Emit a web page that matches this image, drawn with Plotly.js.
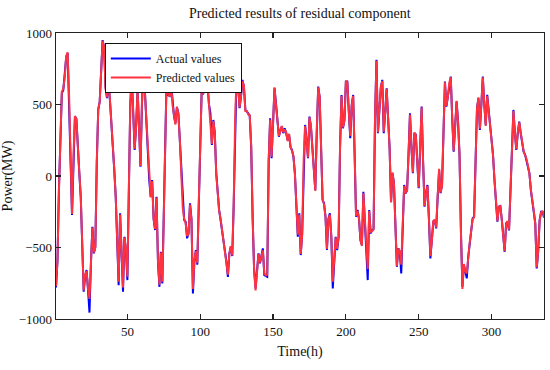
<!DOCTYPE html>
<html>
<head>
<meta charset="utf-8">
<script src="https://cdn.plot.ly/plotly-3.0.1.min.js"></script>
<style>html,body{margin:0;padding:0;background:#fff;}#chart{width:550px;height:370px;}</style>
</head>
<body>
<div id="chart"></div>
<script>
var chartTitle = "Predicted results of residual component";
var xTitle = "Time(h)";
var yTitle = "Power(MW)";
var seriesNames = ["Actual values", "Predicted values"];
var xTickVals = [50, 100, 150, 200, 250, 300];
var yTickVals = [-1000, -500, 0, 500, 1000];
var startHour = 1;

var actualValues = [
 -780, -600, -100, 350, 580, 600, 700, 830, 860, 550, 100, -273,
 150, 415, 400, 150, 20, -150, -500, -809, -700, -658, -800, -955,
 -600, -355, -541, -495, 100, 462, 520, 700, 950, 900, 625, 544,
 660, 532, 392, 250, 42, -145, -500, -763, -261, -500, -810, -425,
 -518, -728, -150, 500, 700, 450, 182, 350, 602, 350, 65, 500,
 760, 600, 392, 150, -28, -145, -28, -300, -378, -145, -600, -775,
 -530, -751, -300, 300, 720, 567, 560, 649, 500, 420, 369, 480,
 439, 250, 42, -215, -308, -320, -436, -400, -191, -300, -821, -600,
 -518, -620, -200, 300, 600, 570, 650, 730, 650, 500, 439, 217,
 392, 300, 21, -150, -238, -308, -378, -470, -520, -600, -705, -541,
 -495, -560, -200, 400, 720, 650, 474, 555, 672, 625, 462, 450,
 439, 420, 200, -300, -650, -786, -650, -541, -611, -560, -506, -693,
 -700, -705, 100, 404, 124, 380, 614, 509, 357, 275, 320, 345,
 300, 334, 300, 252, 290, 200, 182, 135, 20, -200, -425, -261,
 -553, -400, 100, 357, 250, 124, 415, 345, 200, 42, -98, 300,
 625, 550, 200, -168, -191, -285, -518, -300, -261, -425, -786, -600,
 -425, -518, -430, 200, 567, 334, 390, 660, 660, 450, 264, 497,
 567, 150, -285, -238, -300, -450, -483, -110, -300, -500, -728, -238,
 -401, -380, -370, 400, 812, 299, 500, 620, 672, 300, 450, 614,
 400, 200, -180, 19, -50, -300, -635, -506, -530, -681, -350, -63,
 -121, -100, 150, 439, 200, 19, 299, 290, 100, -86, 200, 485,
 100, -215, -120, -63, -300, -576, -450, -320, -310, -366, -150, 42,
 -120, -63, 300, 660, 485, 560, 650, 695, 400, 170, 350, 520,
 380, 150, -400, -775, -623, -680, -716, -565, -471, -380, -296, -285,
 100, 474, 544, 322, 500, 695, 500, 357, 567, 450, 390, 229,
 150, -28, -200, -320, -215, -210, -300, -425, -530, -331, -320, -380,
 -100, 229, 462, 300, 182, 300, 380, 300, 240, 170, 150, 112,
 65, 19, -100, -191, -250, -330, -646, -530, -308, -250, -250, -290
];

var predictedValues = [
 -770, -590, -110, 340, 590, 610, 690, 840, 865, 560, 110, -265,
 140, 420, 395, 160, 25, -140, -490, -800, -690, -665, -790, -860,
 -610, -360, -535, -500, 90, 470, 515, 705, 945, 905, 615, 550,
 655, 540, 385, 255, 50, -150, -495, -740, -270, -495, -780, -430,
 -510, -705, -140, 505, 710, 440, 190, 345, 610, 345, 70, 505,
 770, 590, 400, 140, -20, -150, -35, -295, -370, -150, -590, -760,
 -535, -740, -290, 310, 715, 575, 555, 655, 495, 425, 360, 485,
 430, 255, 50, -220, -300, -330, -420, -405, -200, -310, -790, -590,
 -525, -610, -190, 310, 595, 575, 645, 735, 645, 505, 430, 225,
 385, 305, 15, -145, -245, -300, -385, -460, -515, -605, -690, -545,
 -490, -555, -190, 410, 715, 640, 480, 560, 665, 630, 455, 455,
 430, 425, 210, -290, -660, -800, -640, -545, -605, -565, -520, -680,
 -695, -690, 110, 395, 135, 370, 620, 500, 365, 280, 315, 350,
 305, 325, 305, 245, 295, 205, 175, 140, 15, -195, -410, -270,
 -545, -410, 110, 350, 255, 130, 410, 350, 195, 50, -105, 310,
 620, 555, 195, -160, -200, -280, -510, -305, -270, -420, -740, -605,
 -430, -510, -425, 210, 560, 340, 385, 665, 655, 455, 280, 490,
 560, 160, -280, -245, -295, -445, -490, -120, -305, -495, -650, -245,
 -395, -385, -375, 410, 805, 305, 495, 625, 665, 310, 445, 610,
 405, 195, -185, 25, -55, -295, -630, -510, -525, -620, -345, -70,
 -115, -105, 155, 430, 205, 25, 305, 285, 105, -80, 205, 480,
 105, -210, -125, -70, -295, -560, -455, -315, -305, -360, -140, 50,
 -115, -70, 310, 655, 490, 555, 655, 690, 405, 175, 345, 525,
 375, 155, -395, -790, -615, -670, -680, -560, -465, -385, -300, -290,
 110, 470, 550, 330, 505, 690, 505, 350, 560, 455, 385, 235,
 145, -20, -205, -315, -220, -205, -305, -420, -525, -335, -315, -375,
 -95, 235, 455, 305, 188, 305, 375, 305, 235, 175, 145, 118,
 70, 15, -95, -195, -245, -335, -640, -525, -315, -255, -245, -285
];

var serif = "'Liberation Serif', 'Times New Roman', serif";

var traces = [
  {type: "scatter", mode: "lines", name: seriesNames[0], y: actualValues, x0: startHour, dx: 1,
   line: {color: "#0000ff", width: 2}},
  {type: "scatter", mode: "lines", name: seriesNames[1], y: predictedValues, x0: startHour, dx: 1,
   line: {color: "#ff3340", width: 2}}
];

var axisCommon = {
  showgrid: false, zeroline: false, showline: true, mirror: "ticks",
  linecolor: "#222", linewidth: 1.3, ticks: "inside", ticklen: 5, tickwidth: 1.2, tickcolor: "#222",
  tickfont: {family: serif, size: 13, color: "#111"}
};

var layout = {
  width: 550, height: 370,
  margin: {l: 56, r: 6, t: 33, b: 51},
  paper_bgcolor: "#fff", plot_bgcolor: "#fff",
  title: {text: chartTitle, font: {family: serif, size: 14, color: "#111"}, x: 0.545, xanchor: "center", y: 0.965, yanchor: "middle"},
  xaxis: Object.assign({}, axisCommon, {range: [1, 336], tickmode: "array", tickvals: xTickVals,
    title: {text: xTitle, font: {family: serif, size: 14, color: "#111"}, standoff: 8}}),
  yaxis: Object.assign({}, axisCommon, {range: [-1000, 1000], tickmode: "array", tickvals: yTickVals, ticklabelstandoff: 0,
    title: {text: yTitle, font: {family: serif, size: 14, color: "#111"}, standoff: 4}}),
  showlegend: true,
  legend: {x: 0.1, y: 0.965, xanchor: "left", yanchor: "top", bgcolor: "#fff", bordercolor: "#111", borderwidth: 1,
    font: {family: serif, size: 12, color: "#111"}, tracegroupgap: 0, itemwidth: 40}
};

Plotly.newPlot("chart", traces, layout, {displayModeBar: false, staticPlot: true});
</script>
</body>
</html>
